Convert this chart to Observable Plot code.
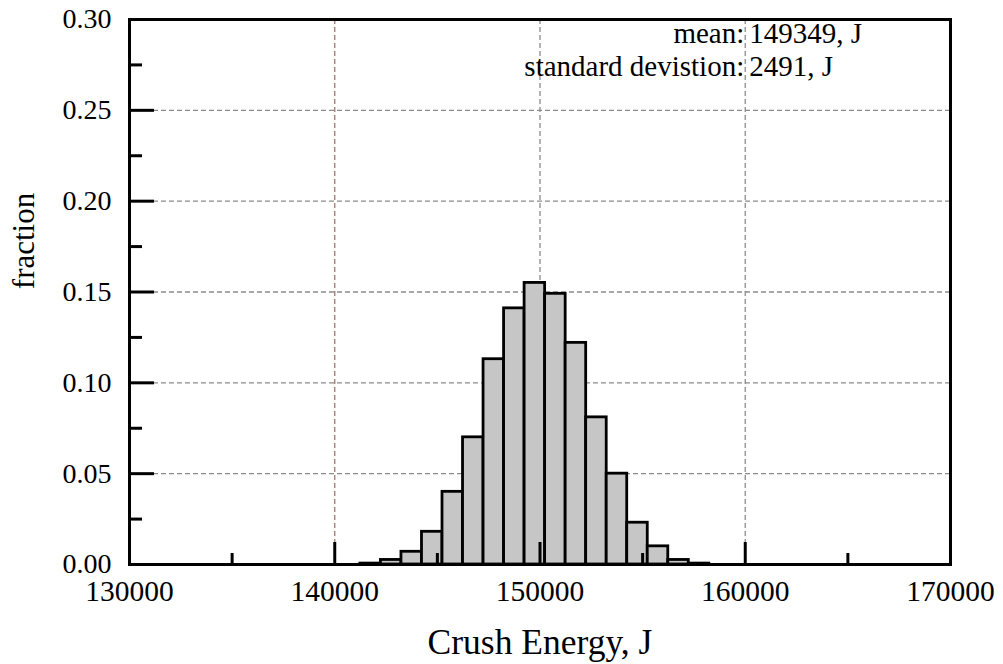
<!DOCTYPE html>
<html>
<head>
<meta charset="utf-8">
<script src="https://cdn.jsdelivr.net/npm/d3@7"></script>
<script src="https://cdn.jsdelivr.net/npm/@observablehq/plot@0.6"></script>
<style>
  html, body { margin: 0; padding: 0; background: #fff; font-family: "Liberation Serif", serif; }
</style>
</head>
<body>
<div id="chart"></div>
<script>
// Histogram of simulated crush energy (J): left edge of each 1000 J bin and its fraction
const binStart = [141250, 142250, 143250, 144250, 145250, 146250, 147250, 148250, 149250,
                  150250, 151250, 152250, 153250, 154250, 155250, 156250, 157250];
const binWidth = 1000;
const fraction = [0.0005, 0.0025, 0.007, 0.018, 0.040, 0.070, 0.113, 0.141, 0.155,
                  0.149, 0.122, 0.081, 0.050, 0.023, 0.010, 0.0025, 0.0005];

// Summary statistics printed in the corner
const meanValue = 149349;
const sdValue = 2491;
const statLabels = ["mean:", "standard devistion:"];
const statValues = [`${meanValue}, J`, `${sdValue}, J`];

// Axes
const xDomain = [130000, 170000];
const yDomain = [0, 0.30];
const xMajorTicks = [130000, 140000, 150000, 160000, 170000];
const xMinorTicks = [135000, 145000, 155000, 165000];
const yMajorTicks = [0, 0.05, 0.10, 0.15, 0.20, 0.25, 0.30];
const yMinorTicks = [0.025, 0.075, 0.125, 0.175, 0.225, 0.275];
const gridXValues = [140000, 150000, 160000];
const gridXColors = ["#a47868", "#8c8c8c", "#8c8c8c"];
const gridYValues = [0.05, 0.10, 0.15, 0.20, 0.25];
const xTitle = "Crush Energy, J";
const yTitle = "fraction";

const bins = binStart.map((lo, i) => ({lo, hi: lo + binWidth, fraction: fraction[i]}));
const gridX = gridXValues.map((x, i) => ({x, color: gridXColors[i]}));

const serif = "'Liberation Serif', serif";

const chart = Plot.plot({
  width: 1003,
  height: 664,
  marginLeft: 129,
  marginRight: 53,
  marginTop: 19,
  marginBottom: 100,
  style: {fontSize: "28px", background: "#fff", color: "#000"},
  x: {domain: xDomain, axis: null},
  y: {domain: yDomain, axis: null},
  marks: [
    // dashed reference grid
    Plot.ruleX(gridX, {x: "x", stroke: "color", strokeWidth: 1.3, strokeDasharray: "5,3"}),
    Plot.gridY(gridYValues, {stroke: "#8c8c8c", strokeOpacity: 1, strokeWidth: 1.3, strokeDasharray: "5,3"}),
    // histogram bars
    Plot.rectY(bins, {x1: "lo", x2: "hi", y: "fraction", fill: "#c6c6c6", stroke: "#000", strokeWidth: 2.8}),
    // inward tick marks
    Plot.axisX(xMajorTicks, {anchor: "bottom", tickSize: -22, tickFormat: () => "", strokeWidth: 3, label: null}),
    Plot.axisX(xMinorTicks, {anchor: "bottom", tickSize: -11, tickFormat: () => "", strokeWidth: 3, label: null}),
    Plot.axisY(yMajorTicks, {anchor: "left", tickSize: -25, tickFormat: () => "", strokeWidth: 3, label: null}),
    Plot.axisY(yMinorTicks, {anchor: "left", tickSize: -13, tickFormat: () => "", strokeWidth: 3, label: null}),
    // tick labels
    Plot.axisX(xMajorTicks, {anchor: "bottom", tickSize: 0, tickPadding: 16, tickFormat: d => String(d), label: null, fontSize: 29.5}),
    Plot.axisY(yMajorTicks, {anchor: "left", tickSize: 0, tickPadding: 18, tickFormat: d => d.toFixed(2), label: null, fontSize: 28}),
    Plot.frame({stroke: "#000", strokeWidth: 3}),
    // axis titles
    Plot.text([xTitle], {frameAnchor: "bottom", textAnchor: "middle", dy: 78, fontSize: 35.5, lineAnchor: "middle"}),
    Plot.text([yTitle], {frameAnchor: "left", textAnchor: "middle", rotate: -90, dx: -105, dy: -51, fontSize: 31, lineAnchor: "middle"}),
    // statistics annotation, aligned on the colon
    Plot.text([statLabels.join("\n")], {x: 160000, frameAnchor: "top", textAnchor: "end", lineAnchor: "top", lineHeight: 1.13, dx: -1, dy: 0, fontSize: 29}),
    Plot.text([statValues.join("\n")], {x: 160000, frameAnchor: "top", textAnchor: "start", lineAnchor: "top", lineHeight: 1.13, dx: 4, dy: 0, fontSize: 29})
  ]
});

// serif face for every label in the figure
chart.setAttribute("font-family", serif);
chart.style.setProperty("font-family", serif, "important");
chart.querySelectorAll("g, text, tspan").forEach(el => {
  el.removeAttribute("font-family");
  el.style.setProperty("font-family", serif, "important");
});

document.getElementById("chart").appendChild(chart);
</script>
</body>
</html>
